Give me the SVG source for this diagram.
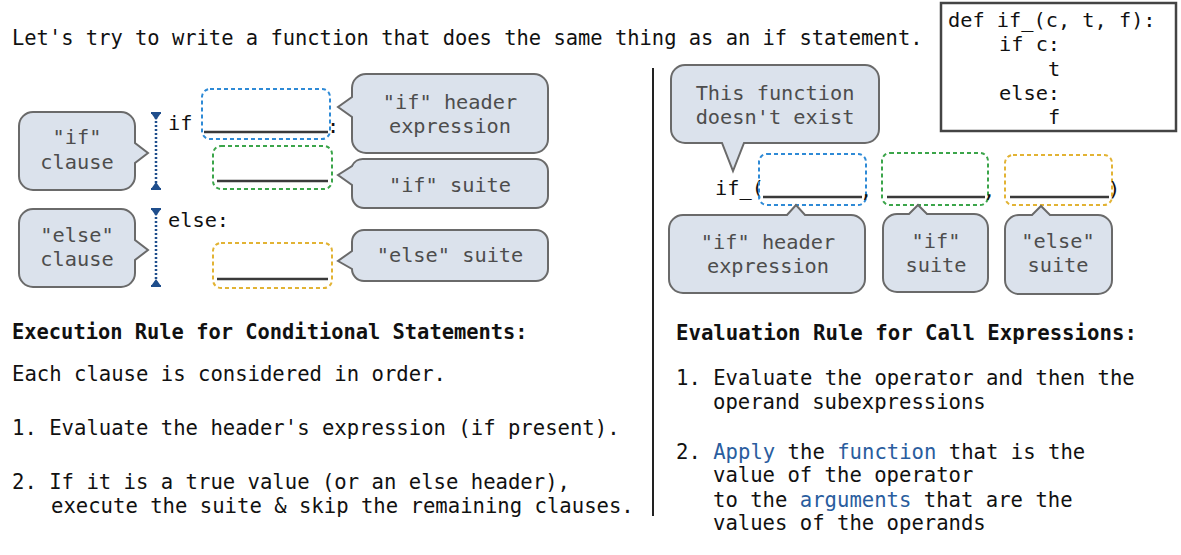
<svg xmlns="http://www.w3.org/2000/svg" width="1181" height="555" viewBox="0 0 1181 555">
<style>
  text { font-family: "DejaVu Sans Mono", "Liberation Mono", monospace; }
  .t { font-size: 20.3px; fill: #111; }
  .r { font-size: 20.6px; fill: #111; }
  .rr { font-size: 20.6px; fill: #111; }
  .h { font-size: 20.4px; font-weight: bold; fill: #111; }
  .bt { font-size: 20.3px; fill: #4d4d4d; text-anchor: middle; }
  .bub { fill: #dbe2ec; stroke: #6a6a6a; stroke-width: 2; }
  .box { fill: none; stroke-width: 2; stroke-dasharray: 4 3; }
  .blue { stroke: #2e8ad6; }
  .green { stroke: #3ba54a; }
  .yellow { stroke: #e2b334; }
  .ul { stroke: #3a3a3a; stroke-width: 2.5; }
  .kw { fill: #2a5d9e; }
  .dim { stroke: #1f4e8c; stroke-width: 2.5; stroke-dasharray: 2 2; }
  .dimend { fill: #1f4e8c; }
</style>

<rect x="0" y="0" width="1181" height="555" fill="#ffffff"/>

<text class="t" x="12" y="45" style="font-size:20.45px">Let's try to write a function that does the same thing as an if statement.</text>

<g id="code-box">
  <rect x="941" y="3" width="235" height="128" fill="#fff" stroke="#444" stroke-width="2.5"/>
  <text class="t" x="948" y="27">def if_(c, t, f):</text>
  <text class="t" x="999" y="51">if c:</text>
  <text class="t" x="1048" y="76">t</text>
  <text class="t" x="999" y="100">else:</text>
  <text class="t" x="1048" y="124">f</text>
</g>

<g id="separator">
  <line x1="653" y1="68" x2="653" y2="516" stroke="#222" stroke-width="2"/>
</g>

<!-- Left side: if statement -->
<g id="if-clause">
  <path class="bub" d="M33 112 H121 A14 14 0 0 1 135 126 V143 L148 153 L135 163 V176 A14 14 0 0 1 121 190 H33 A14 14 0 0 1 19 176 V126 A14 14 0 0 1 33 112 Z"/>
  <text class="bt" x="77" y="144">"if"</text>
  <text class="bt" x="77" y="169">clause</text>
</g>
<g id="else-clause">
  <path class="bub" d="M33 209 H121 A14 14 0 0 1 135 223 V240 L148 250 L135 260 V273 A14 14 0 0 1 121 287 H33 A14 14 0 0 1 19 273 V223 A14 14 0 0 1 33 209 Z"/>
  <text class="bt" x="77" y="242">"else"</text>
  <text class="bt" x="77" y="266">clause</text>
</g>

<g id="if-range">
  <line class="dim" x1="156" y1="117" x2="156" y2="185"/>
  <rect class="dimend" x="151" y="112" width="10" height="2"/>
  <polygon class="dimend" points="151,113 161,113 156,120"/>
  <rect class="dimend" x="151" y="188" width="10" height="2"/>
  <polygon class="dimend" points="151,189 161,189 156,182"/>
</g>
<g id="else-range">
  <line class="dim" x1="156" y1="213" x2="156" y2="282"/>
  <rect class="dimend" x="151" y="208" width="10" height="2"/>
  <polygon class="dimend" points="151,209 161,209 156,216"/>
  <rect class="dimend" x="151" y="285" width="10" height="2"/>
  <polygon class="dimend" points="151,286 161,286 156,279"/>
</g>

<g id="if-statement">
  <text class="t" x="168" y="130">if</text>
  <rect class="box blue" x="202" y="89" width="128" height="50" rx="8"/>
  <line class="ul" x1="204" y1="132" x2="328" y2="132"/>
  <text class="t" x="327" y="133">:</text>
  <rect class="box green" x="213" y="146" width="119" height="43" rx="8"/>
  <line class="ul" x1="217" y1="181" x2="328" y2="181"/>
  <text class="t" x="168" y="227">else:</text>
  <rect class="box yellow" x="213" y="243" width="119" height="45" rx="8"/>
  <line class="ul" x1="217" y1="279" x2="328" y2="279"/>
</g>

<g id="if-header-expression-left">
  <path class="bub" d="M366 74 H534 A14 14 0 0 1 548 88 V139 A14 14 0 0 1 534 153 H366 A14 14 0 0 1 352 139 V117 L338 107 L352 97 V88 A14 14 0 0 1 366 74 Z"/>
  <text class="bt" x="450" y="109">"if" header</text>
  <text class="bt" x="450" y="133">expression</text>
</g>
<g id="if-suite-left">
  <path class="bub" d="M364 159 H536 A12 12 0 0 1 548 171 V196 A12 12 0 0 1 536 208 H364 A12 12 0 0 1 352 196 V185 L338 175 L352 166 A12 12 0 0 1 364 159 Z"/>
  <text class="bt" x="450" y="192">"if" suite</text>
</g>
<g id="else-suite-left">
  <path class="bub" d="M364 230 H536 A12 12 0 0 1 548 242 V269 A12 12 0 0 1 536 281 H364 A12 12 0 0 1 352 269 L338 261 L352 251 V242 A12 12 0 0 1 364 230 Z"/>
  <text class="bt" x="450" y="262">"else" suite</text>
</g>

<!-- Right side: if_ function -->
<g id="function-note">
  <path class="bub" d="M685 65 H865 A14 14 0 0 1 879 79 V129 A14 14 0 0 1 865 143 H744 L733 171 L722 143 H685 A14 14 0 0 1 671 129 V79 A14 14 0 0 1 685 65 Z"/>
  <text class="bt" x="775" y="100">This function</text>
  <text class="bt" x="775" y="124">doesn't exist</text>
</g>

<g id="if-call">
  <text class="t" x="715" y="195">if_(</text>
  <rect class="box blue" x="759" y="154" width="107" height="51" rx="8"/>
  <line class="ul" x1="763" y1="197" x2="862" y2="197"/>
  <text class="t" x="860" y="197">,</text>
  <rect class="box green" x="882" y="153" width="106" height="52" rx="8"/>
  <line class="ul" x1="887" y1="197" x2="985" y2="197"/>
  <text class="t" x="983" y="197">,</text>
  <rect class="box yellow" x="1005" y="155" width="107" height="50" rx="8"/>
  <line class="ul" x1="1010" y1="197" x2="1109" y2="197"/>
  <text class="t" x="1108" y="196">)</text>
</g>

<g id="if-header-expression-right">
  <path class="bub" d="M683 215 H787 L796 205 L805 215 H851 A14 14 0 0 1 865 229 V279 A14 14 0 0 1 851 293 H683 A14 14 0 0 1 669 279 V229 A14 14 0 0 1 683 215 Z"/>
  <text class="bt" x="768" y="249">"if" header</text>
  <text class="bt" x="768" y="273">expression</text>
</g>
<g id="if-suite-right">
  <path class="bub" d="M897 214 H909 L918 205 L927 214 H974 A14 14 0 0 1 988 228 V278 A14 14 0 0 1 974 292 H897 A14 14 0 0 1 883 278 V228 A14 14 0 0 1 897 214 Z"/>
  <text class="bt" x="936" y="248">"if"</text>
  <text class="bt" x="936" y="272">suite</text>
</g>
<g id="else-suite-right">
  <path class="bub" d="M1019 215 H1032 L1041 206 L1050 215 H1098 A14 14 0 0 1 1112 229 V280 A14 14 0 0 1 1098 294 H1019 A14 14 0 0 1 1005 280 V229 A14 14 0 0 1 1019 215 Z"/>
  <text class="bt" x="1058" y="248">"else"</text>
  <text class="bt" x="1058" y="272">suite</text>
</g>

<!-- Bottom left rules -->
<g id="execution-rule">
  <text class="h" x="12" y="339">Execution Rule for Conditional Statements:</text>
  <text class="r" x="12" y="381">Each clause is considered in order.</text>
  <text class="r" x="12" y="435">1. Evaluate the header's expression (if present).</text>
  <text class="r" x="12" y="489">2. If it is a true value (or an else header),</text>
  <text class="r" x="51" y="513">execute the suite &amp; skip the remaining clauses.</text>
</g>

<!-- Bottom right rules -->
<g id="evaluation-rule">
  <text class="h" x="676" y="340" style="font-size:20.7px">Evaluation Rule for Call Expressions:</text>
  <text class="rr" x="676" y="385">1. Evaluate the operator and then the</text>
  <text class="rr" x="713" y="409">operand subexpressions</text>
  <text class="rr" x="676" y="459">2. <tspan class="kw">Apply</tspan> the <tspan class="kw">function</tspan> that is the</text>
  <text class="rr" x="713" y="482">value of the operator</text>
  <text class="rr" x="713" y="507">to the <tspan class="kw">arguments</tspan> that are the</text>
  <text class="rr" x="713" y="530">values of the operands</text>
</g>
</svg>
